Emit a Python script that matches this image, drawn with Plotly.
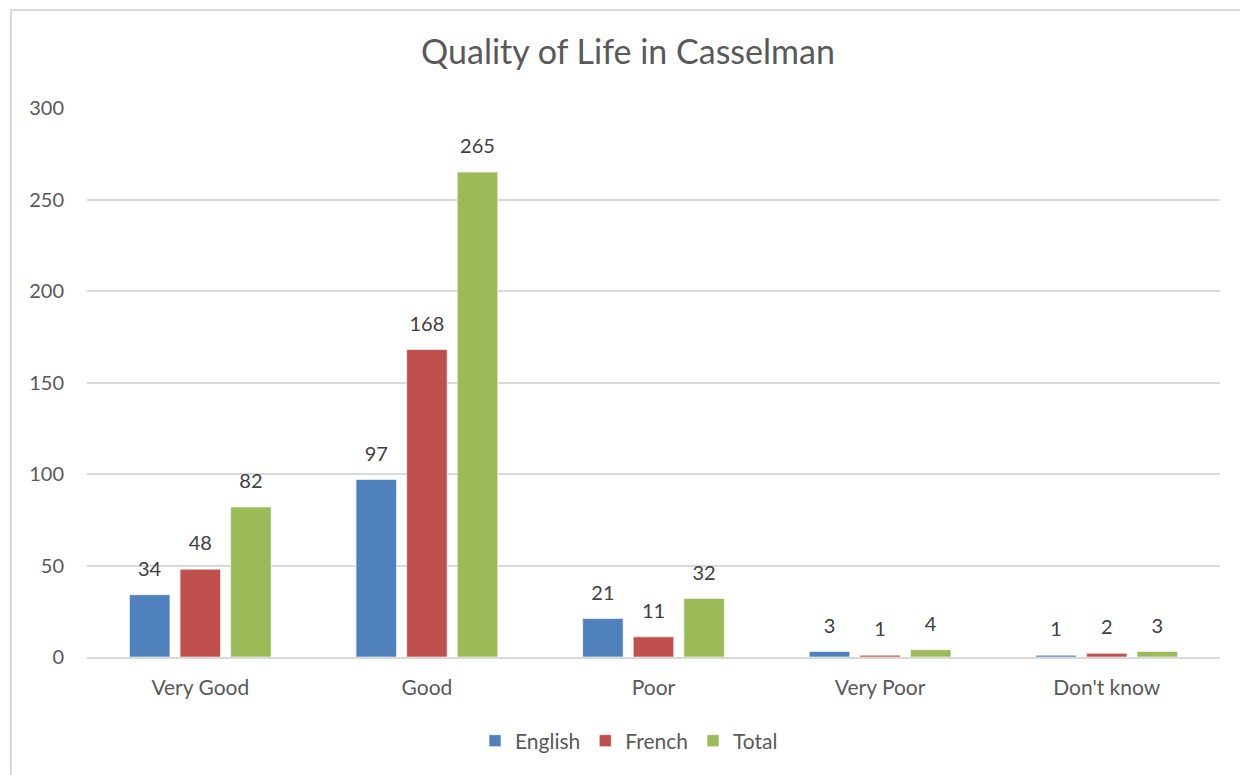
import plotly.graph_objects as go

categories = ["Very Good", "Good", "Poor", "Very Poor", "Don't know"]
english = [34, 97, 21, 3, 1]
french = [48, 168, 11, 1, 2]
total = [82, 265, 32, 4, 3]

FONT = "Lato, Open Sans, sans-serif"
GREY = "#595959"
LABEL_PAD = 6.5  # gap between bar top and its label, in axis units

fig = go.Figure()
for name, vals, color in [
    ("English", english, "#4f81bd"),
    ("French", french, "#c0504d"),
    ("Total", total, "#9bbb59"),
]:
    fig.add_trace(
        go.Bar(
            x=categories,
            y=vals,
            name=name,
            offsetgroup=name,
            marker=dict(color=color, line=dict(color="white", width=0.6)),
        )
    )
    # invisible spacer bar sitting on top, carrying the value label
    fig.add_trace(
        go.Bar(
            x=categories,
            y=[LABEL_PAD] * len(vals),
            base=vals,
            offsetgroup=name,
            marker=dict(color="rgba(0,0,0,0)", line=dict(width=0)),
            text=vals,
            textposition="outside",
            constraintext="none",
            textfont=dict(size=20, color="#404040", family=FONT),
            cliponaxis=False,
            showlegend=False,
            hoverinfo="skip",
        )
    )

# page body has an 8px margin, so the figure is 1240x767 drawn from (8, 8)
fig.update_layout(
    width=1240,
    height=767,
    paper_bgcolor="white",
    plot_bgcolor="white",
    font=dict(family=FONT, color=GREY, size=20),
    title=dict(
        text="Quality of Life in Casselman",
        x=0.5,
        xref="container",
        xanchor="center",
        y=1 - 44 / 767,
        yref="container",
        yanchor="middle",
        font=dict(size=34, color=GREY, family=FONT),
    ),
    barmode="group",
    bargap=0.33,
    bargroupgap=0.2,
    margin=dict(l=79, r=28, t=100, b=118, autoexpand=False),
    xaxis=dict(
        showgrid=False,
        showline=True,
        linecolor="#d9d9d9",
        linewidth=2,
        ticks="",
        tickangle=0,
        ticklabelstandoff=11,
        tickfont=dict(size=21, color=GREY),
    ),
    yaxis=dict(
        range=[0, 300],
        dtick=50,
        showgrid=True,
        gridcolor="#d9d9d9",
        gridwidth=1.5,
        zeroline=False,
        ticks="",
        ticklabelstandoff=22,
        tickfont=dict(size=20, color=GREY),
    ),
    legend=dict(
        orientation="h",
        x=(621 - 79) / 1133,
        xanchor="center",
        y=(657 - 741) / 549,
        yanchor="middle",
        font=dict(size=21, color=GREY),
        traceorder="normal",
    ),
    showlegend=True,
)

fig.add_shape(
    type="rect",
    xref="paper",
    yref="paper",
    x0=(3 - 79) / 1133,
    x1=(1300 - 79) / 1133,
    y0=(649 - 820) / 549,
    y1=(649 - 2) / 549,
    line=dict(color="#d9d9d9", width=2),
    layer="below",
)

fig.write_html("out.html")
